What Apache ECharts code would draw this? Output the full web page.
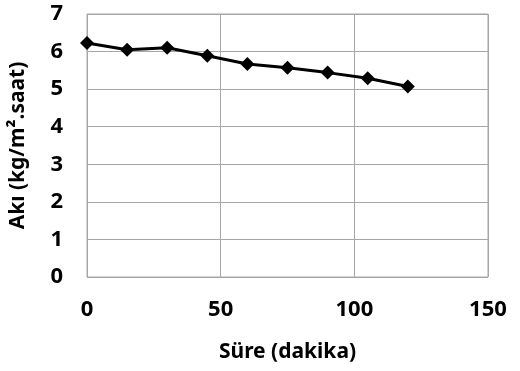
<!DOCTYPE html>
<html>
<head>
<meta charset="utf-8">
<script src="https://cdn.jsdelivr.net/npm/echarts@6/dist/echarts.min.js"></script>
<style>
  html, body { margin: 0; padding: 0; background: #fff; }
  #chart { width: 520px; height: 371px; }
</style>
</head>
<body>
<div id="chart"></div>
<script>
// Flux over time
const timeMin = [0, 15, 30, 45, 60, 75, 90, 105, 120];
const flux = [6.23, 6.05, 6.10, 5.89, 5.67, 5.57, 5.44, 5.29, 5.07];
const xTitle = 'Süre (dakika)';
const yTitle = 'Akı (kg/m\u00B2.saat)';

const font = '"Noto Sans", "Open Sans", "DejaVu Sans", sans-serif';
const gridColor = '#a6a6a6';

const chart = echarts.init(document.getElementById('chart'), null, { renderer: 'canvas' });
chart.setOption({
  animation: false,
  grid: { left: 86, right: 32, top: 14, bottom: 94, show: true, borderColor: gridColor, borderWidth: 1 },
  xAxis: {
    type: 'value', min: 0, max: 150, interval: 50,
    name: xTitle, nameLocation: 'middle', nameGap: 65,
    nameTextStyle: { fontFamily: font, fontWeight: 'bold', fontSize: 21, color: '#000' },
    axisLine: { show: false }, axisTick: { show: false },
    axisLabel: { fontFamily: font, fontWeight: 'bold', fontSize: 22, color: '#000', margin: 22 },
    splitLine: { show: true, lineStyle: { color: gridColor, width: 1 } }
  },
  yAxis: {
    type: 'value', min: 0, max: 7, interval: 1,
    name: yTitle, nameLocation: 'middle', nameGap: 58, nameRotate: 90,
    nameTextStyle: { fontFamily: font, fontWeight: 'bold', fontSize: 21, color: '#000' },
    axisLine: { show: false }, axisTick: { show: false },
    axisLabel: { fontFamily: font, fontWeight: 'bold', fontSize: 22, color: '#000', margin: 24 },
    splitLine: { show: true, lineStyle: { color: gridColor, width: 1 } }
  },
  series: [{
    type: 'line',
    data: timeMin.map((t, i) => [t, flux[i]]),
    symbol: 'diamond', symbolSize: 14,
    lineStyle: { color: '#000', width: 3 },
    itemStyle: { color: '#000' }
  }]
});
</script>
</body>
</html>
